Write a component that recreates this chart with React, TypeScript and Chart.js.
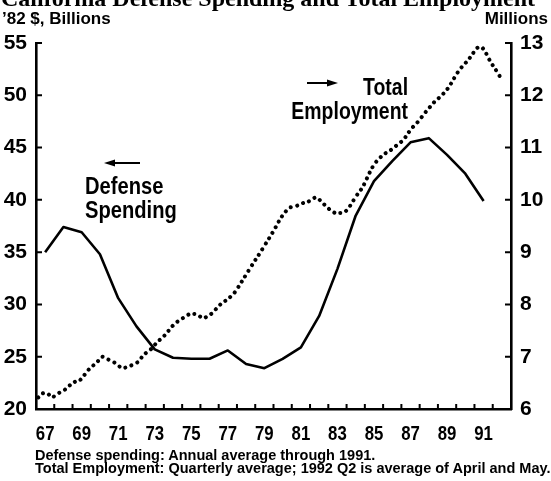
import React, { useEffect, useRef } from "react";
import { Chart, registerables } from "chart.js";

Chart.register(...registerables);

// ---- Data ----
const years = [67, 68, 69, 70, 71, 72, 73, 74, 75, 76, 77, 78, 79, 80, 81, 82, 83, 84, 85, 86, 87, 88, 89, 90, 91];
// California defense spending, '82 $ billions (annual average)
const defenseSpending = [35.0, 37.4, 36.9, 34.8, 30.6, 27.9, 25.7, 24.9, 24.8, 24.8, 25.6, 24.3, 23.9, 24.8, 25.9, 28.9, 33.4, 38.5, 41.8, 43.7, 45.5, 45.9, 44.3, 42.5, 39.9];
// Total employment, millions (quarterly average, 1967 Q1 .. 1992 Q2)
const employmentFirstYear = 67;
const totalEmployment = [
  6.22, 6.30, 6.30, 6.22, // 67
  6.28, 6.33, 6.38, 6.46, // 68
  6.52, 6.54, 6.64, 6.75, // 69
  6.83, 6.91, 7.00, 6.96, // 70
  6.92, 6.87, 6.80, 6.79, // 71
  6.82, 6.86, 6.91, 7.03, // 72
  7.10, 7.17, 7.28, 7.35, // 73
  7.44, 7.55, 7.64, 7.70, // 74
  7.76, 7.81, 7.82, 7.80, // 75
  7.73, 7.77, 7.83, 7.92, // 76
  8.01, 8.07, 8.14, 8.23, // 77
  8.36, 8.50, 8.64, 8.78, // 78
  8.91, 9.05, 9.19, 9.33, // 79
  9.48, 9.64, 9.76, 9.85, // 80
  9.87, 9.90, 9.94, 9.96, // 81
  10.02, 10.05, 9.96, 9.88, // 82
  9.80, 9.75, 9.75, 9.76, // 83
  9.85, 9.99, 10.12, 10.24, // 84
  10.42, 10.60, 10.73, 10.82, // 85
  10.89, 10.94, 11.01, 11.08, // 86
  11.15, 11.28, 11.39, 11.48, // 87
  11.59, 11.70, 11.80, 11.90, // 88
  11.97, 12.06, 12.17, 12.32, // 89
  12.46, 12.57, 12.66, 12.78, // 90
  12.90, 12.93, 12.81, 12.64, // 91
  12.51, 12.37, // 92
];
const xTickLabels = [67, 69, 71, 73, 75, 77, 79, 81, 83, 85, 87, 89, 91];
const leftTicks = [20, 25, 30, 35, 40, 45, 50, 55];
const rightTicks = [6, 7, 8, 9, 10, 11, 12, 13];

const SANS = '"Liberation Sans", Arial, Helvetica, sans-serif';

const axisExtras = {
  id: "axisExtras",
  afterDatasetsDraw(chart: any) {
    const { ctx, chartArea } = chart;
    const { left, right, bottom } = chartArea;
    const sx = chart.scales.x;
    const yl = chart.scales.yL;
    const yr = chart.scales.yR;
    ctx.save();
    // inward tick marks
    ctx.strokeStyle = "#000";
    ctx.lineWidth = 2;
    ctx.beginPath();
    years.forEach((y) => {
      const px = sx.getPixelForValue(y + 0.5);
      ctx.moveTo(px, bottom);
      ctx.lineTo(px, bottom - 5);
    });
    leftTicks.forEach((v) => {
      const py = yl.getPixelForValue(v);
      ctx.moveTo(left, py);
      ctx.lineTo(left + 6, py);
    });
    rightTicks.forEach((v) => {
      const py = yr.getPixelForValue(v);
      ctx.moveTo(right, py);
      ctx.lineTo(right - 6, py);
    });
    ctx.stroke();
    // condensed x-axis tick labels, placed from the x scale's own ticks
    ctx.fillStyle = "#000";
    ctx.font = `bold 21px ${SANS}`;
    ctx.textAlign = "center";
    ctx.textBaseline = "alphabetic";
    sx.ticks.forEach((t: any) => {
      const px = sx.getPixelForValue(t.value);
      ctx.save();
      ctx.translate(px, bottom + 31);
      ctx.scale(0.8, 1);
      ctx.fillText(String(t.value), 0, 0);
      ctx.restore();
    });
    ctx.restore();
  },
};

export default function App() {
  const ref = useRef<HTMLCanvasElement>(null);

  useEffect(() => {
    if (!ref.current) return;
    const yFont = { family: SANS, size: 21, weight: "bold" as const };
    const chart = new Chart(ref.current, {
      type: "line",
      data: {
        datasets: [
          {
            label: "Defense Spending",
            data: years.map((y, i) => ({ x: y, y: defenseSpending[i] })),
            yAxisID: "yL",
            borderColor: "#000",
            borderWidth: 2.6,
            borderJoinStyle: "round",
            pointRadius: 0,
            tension: 0,
          },
          {
            label: "Total Employment",
            data: totalEmployment.map((v, k) => ({
              x: employmentFirstYear + Math.floor(k / 4) - 0.5 + ((k % 4) + 0.5) / 4,
              y: v,
            })),
            yAxisID: "yR",
            borderColor: "#000",
            borderWidth: 4,
            borderDash: [0.01, 6.4],
            borderCapStyle: "round",
            pointRadius: 0,
            tension: 0.2,
          },
        ],
      },
      options: {
        animation: false,
        responsive: false,
        devicePixelRatio: 1,
        layout: { padding: { top: 43, bottom: 40, left: 0, right: 0 } },
        plugins: { legend: { display: false }, tooltip: { enabled: false } },
        scales: {
          x: {
            type: "linear",
            min: 66.5,
            max: 92.5,
            afterBuildTicks: (s: any) => {
              s.ticks = xTickLabels.map((v) => ({ value: v }));
            },
            afterFit: (s: any) => {
              s.height = 32;
            },
            ticks: { display: false, autoSkip: false, maxRotation: 0 },
            grid: { display: false, drawTicks: false },
            border: { display: true, color: "#000", width: 2.6 },
          },
          yL: {
            position: "left",
            min: 20,
            max: 55,
            afterBuildTicks: (s: any) => {
              s.ticks = leftTicks.map((v) => ({ value: v }));
            },
            afterFit: (s: any) => {
              s.width = 36;
            },
            ticks: { padding: 9, color: "#000", font: yFont },
            grid: { display: false, drawTicks: false },
            border: { display: true, color: "#000", width: 2.6 },
          },
          yR: {
            position: "right",
            min: 6,
            max: 13,
            afterBuildTicks: (s: any) => {
              s.ticks = rightTicks.map((v) => ({ value: v }));
            },
            afterFit: (s: any) => {
              s.width = 40;
            },
            ticks: { padding: 9, color: "#000", font: yFont },
            grid: { display: false, drawTicks: false },
            border: { display: true, color: "#000", width: 2.6 },
          },
        },
      },
      plugins: [axisExtras],
    });
    return () => chart.destroy();
  }, []);

  const txt = (style: React.CSSProperties): React.CSSProperties => ({
    position: "absolute",
    whiteSpace: "nowrap",
    fontWeight: "bold",
    color: "#000",
    lineHeight: 1,
    margin: 0,
    fontFamily: SANS,
    ...style,
  });

  return (
    <div
      style={{
        position: "fixed",
        left: 0,
        top: 0,
        width: 551,
        height: 481,
        overflow: "hidden",
        background: "#fff",
      }}
    >
      <canvas ref={ref} width={551} height={481} style={{ position: "absolute", left: 0, top: 0 }} />
      <div style={txt({ left: 1, top: -14, fontFamily: '"Liberation Serif", "Times New Roman", serif', fontSize: 24 })}>
        California Defense Spending and Total Employment
      </div>
      <div style={txt({ left: 2, top: 10, fontSize: 17 })}>’82 $, Billions</div>
      <div style={txt({ right: 3, top: 10, fontSize: 17 })}>Millions</div>
      <div
        style={txt({
          left: 85,
          top: 174,
          fontSize: 24,
          lineHeight: "24px",
          transform: "scaleX(0.84)",
          transformOrigin: "left top",
        })}
      >
        Defense
        <br />
        Spending
      </div>
      <div
        style={txt({
          right: 143,
          top: 75,
          fontSize: 24,
          lineHeight: "24px",
          textAlign: "right",
          transform: "scaleX(0.81)",
          transformOrigin: "right top",
        })}
      >
        Total
        <br />
        Employment
      </div>
      <svg width={551} height={481} style={{ position: "absolute", left: 0, top: 0 }}>
        <line x1={110} y1={163} x2={140} y2={163} stroke="#000" strokeWidth={2} />
        <polygon points="104,163 115,159.5 115,166.5" fill="#000" />
        <line x1={307} y1={83} x2={331} y2={83} stroke="#000" strokeWidth={2} />
        <polygon points="338,83 327,79.5 327,86.5" fill="#000" />
      </svg>
      <div style={txt({ left: 35, top: 448, fontSize: 14.5 })}>
        Defense spending: Annual average through 1991.
      </div>
      <div style={txt({ left: 35, top: 461, fontSize: 14.5 })}>
        Total Employment: Quarterly average; 1992 Q2 is average of April and May.
      </div>
    </div>
  );
}
